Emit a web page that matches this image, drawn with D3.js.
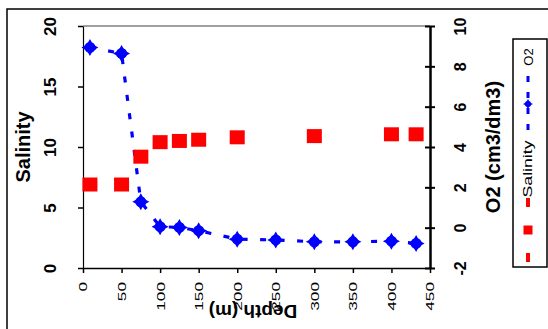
<!DOCTYPE html>
<html><head><meta charset="utf-8">
<script src="https://cdn.jsdelivr.net/npm/d3@7/dist/d3.min.js"></script>
<style>
html,body{margin:0;padding:0;background:#fff;}
svg{display:block;font-family:"Liberation Sans",Arial,sans-serif;}
</style></head>
<body>
<svg id="c" width="548" height="329"></svg>
<script>
// ---- data ----
const salDepth = [9, 50, 75, 100, 125, 150, 200, 300, 400, 432];
const salinity = [6.9, 6.9, 9.2, 10.4, 10.5, 10.6, 10.8, 10.9, 11.05, 11.05];
const o2Depth = [9, 50, 75, 100, 125, 150, 200, 250, 300, 350, 400, 432];
const o2 = [8.94, 8.64, 1.28, 0.05, 0.01, -0.15, -0.57, -0.61, -0.7, -0.7, -0.67, -0.78];
const depthTicks = [0, 50, 100, 150, 200, 250, 300, 350, 400, 450];
const salTicks = [0, 5, 10, 15, 20];
const o2Ticks = [-2, 0, 2, 4, 6, 8, 10];
const seriesNames = ["O2", "Salinity"];

const svg = d3.select("#c");
const L = 83, R = 430, T = 26, B = 268;
const x = d3.scaleLinear().domain([0, 450]).range([L, R]);
const yL = d3.scaleLinear().domain([0, 20]).range([B, T]);
const yR = d3.scaleLinear().domain([-2, 10]).range([B, T]);

// outer frame
svg.append("rect").attr("x", 7).attr("y", 9).attr("width", 700).attr("height", 500)
  .attr("fill", "none").attr("stroke", "#000").attr("stroke-width", 1.5);

// plot top line (grey)
svg.append("line").attr("x1", L).attr("x2", R).attr("y1", T).attr("y2", T)
  .attr("stroke", "#808080").attr("stroke-width", 1.5);

// left axis
const gl = svg.append("g").attr("transform", `translate(${L},0)`)
  .call(d3.axisLeft(yL).tickValues(salTicks).tickSize(5).tickSizeOuter(0).tickFormat(""));
gl.select(".domain").attr("stroke", "#000").attr("stroke-width", 1.2);
gl.selectAll(".tick line").attr("stroke", "#000").attr("stroke-width", 1.5);
gl.selectAll(".tick").append("text")
  .attr("transform", "translate(-33,0) rotate(-90)")
  .attr("text-anchor", "middle").attr("dominant-baseline", "central")
  .attr("fill", "#000").attr("font-size", 17).attr("font-weight", "bold")
  .text(d => d);

// right axis
const gr = svg.append("g").attr("transform", `translate(${R},0)`)
  .call(d3.axisRight(yR).tickValues(o2Ticks).tickSizeInner(5).tickSizeOuter(0).tickFormat(""));
gr.select(".domain").attr("stroke", "#000").attr("stroke-width", 2.5);
gr.selectAll(".tick line").attr("x1", -5).attr("x2", 5).attr("stroke", "#000").attr("stroke-width", 2);
gr.selectAll(".tick").append("text")
  .attr("transform", "translate(30,0) rotate(-90)")
  .attr("text-anchor", "middle").attr("dominant-baseline", "central")
  .attr("fill", "#000").attr("font-size", 16).attr("font-weight", "bold")
  .text(d => d);

// bottom axis
const gb = svg.append("g").attr("transform", `translate(0,${B})`)
  .call(d3.axisBottom(x).tickValues(depthTicks).tickSize(5).tickSizeOuter(0).tickFormat(""));
gb.select(".domain").attr("stroke", "#000").attr("stroke-width", 1.5);
gb.selectAll(".tick line").attr("stroke", "#000").attr("stroke-width", 1.5);
gb.selectAll(".tick").append("text")
  .attr("transform", "translate(0,14) rotate(-90) scale(1.5,1)")
  .attr("text-anchor", "end").attr("dominant-baseline", "central")
  .attr("fill", "#000").attr("font-size", 11.5)
  .text(d => d);

// axis titles
svg.append("text").attr("transform", "translate(23,147) rotate(-90)")
  .attr("text-anchor", "middle").attr("dominant-baseline", "central")
  .attr("font-size", 20).attr("font-weight", "bold").text("Salinity");
svg.append("text").attr("transform", "translate(493,147) rotate(-90)")
  .attr("text-anchor", "middle").attr("dominant-baseline", "central")
  .attr("font-size", 20).attr("font-weight", "bold").text("O2 (cm3/dm3)");
svg.append("text").attr("transform", "translate(253,311) rotate(180)")
  .attr("text-anchor", "middle").attr("dominant-baseline", "central")
  .attr("font-size", 19).attr("font-weight", "bold").text("Depth (m)");

// O2 line
const o2Data = o2Depth.map((d, i) => ({d, v: o2[i]}));
const salData = salDepth.map((d, i) => ({d, v: salinity[i]}));
svg.append("path").datum(o2Data)
  .attr("d", d3.line().x(p => x(p.d)).y(p => yR(p.v)))
  .attr("fill", "none").attr("stroke", "#0000ff").attr("stroke-width", 3.2)
  .attr("stroke-dasharray", "6,12.5");

// salinity squares
svg.selectAll("rect.sal").data(salData).enter().append("rect")
  .attr("class", "sal")
  .attr("x", p => x(p.d) - 7.5).attr("y", p => yL(p.v) - 7)
  .attr("width", 15).attr("height", 14).attr("fill", "#ff0000");

// O2 diamonds
const diamond = (s) => `M0,${-s}C${s*0.35},${-s*0.35} ${s*0.35},${-s*0.35} ${s},0C${s*0.35},${s*0.35} ${s*0.35},${s*0.35} 0,${s}C${-s*0.35},${s*0.35} ${-s*0.35},${s*0.35} ${-s},0C${-s*0.35},${-s*0.35} ${-s*0.35},${-s*0.35} 0,${-s}Z`;
const og = svg.selectAll("g.o2").data(o2Data).enter().append("g")
  .attr("transform", p => `translate(${x(p.d)},${yR(p.v)})`);
og.append("path").attr("d", diamond(8.5)).attr("fill", "#0000ff");
og.append("circle").attr("r", 5.5).attr("fill", "#0000ff");

// legend
const lg = svg.append("g");
lg.append("rect").attr("x", 513).attr("y", 39).attr("width", 34).attr("height", 228)
  .attr("fill", "#fff").attr("stroke", "#000").attr("stroke-width", 1.5);
lg.append("text").attr("transform", "translate(528,57) rotate(-90)")
  .attr("text-anchor", "middle").attr("dominant-baseline", "central")
  .attr("font-size", 13).text(seriesNames[0]);
lg.append("line").attr("x1", 528).attr("x2", 528).attr("y1", 76).attr("y2", 136)
  .attr("stroke", "#0000ff").attr("stroke-width", 3).attr("stroke-dasharray", "6,10");
const lgd = lg.append("g").attr("transform", "translate(528,104)");
lgd.append("path").attr("d", diamond(5)).attr("fill", "#0000ff");
lgd.append("circle").attr("r", 3).attr("fill", "#0000ff");
lg.append("text").attr("transform", "translate(528,169) rotate(-90)")
  .attr("text-anchor", "middle").attr("dominant-baseline", "central")
  .attr("font-size", 12).attr("textLength", 57).attr("lengthAdjust", "spacingAndGlyphs")
  .text(seriesNames[1]);
lg.append("line").attr("x1", 528).attr("x2", 528).attr("y1", 198).attr("y2", 262)
  .attr("stroke", "#ff0000").attr("stroke-width", 4).attr("stroke-dasharray", "9,46");
lg.append("rect").attr("x", 523.5).attr("y", 225.5).attr("width", 9).attr("height", 9).attr("fill", "#ff0000");
</script>
</body></html>
